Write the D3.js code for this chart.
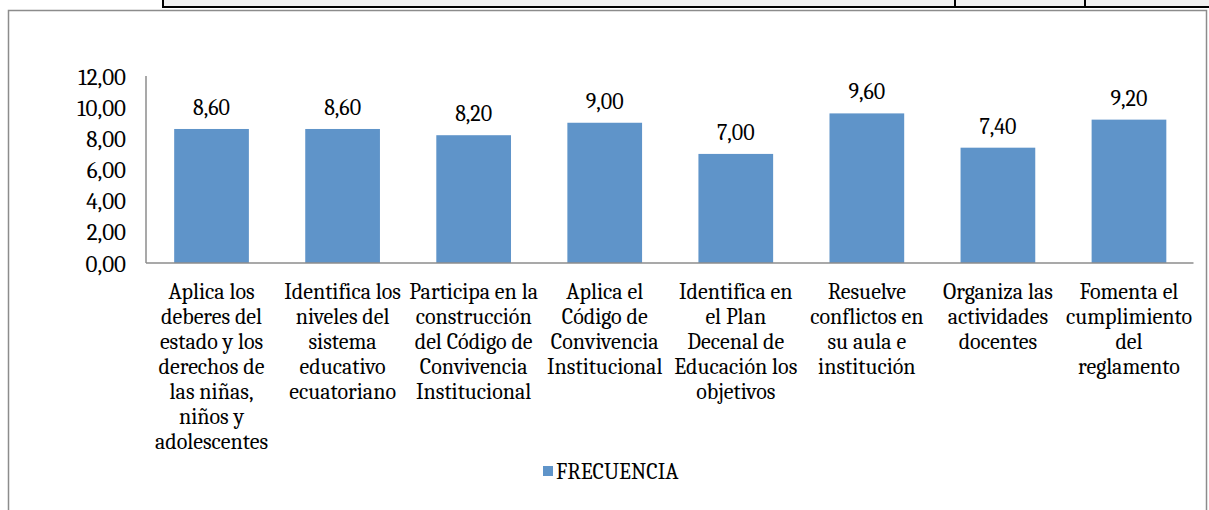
<!DOCTYPE html>
<html>
<head>
<meta charset="utf-8">
<script src="https://cdn.jsdelivr.net/npm/d3@7"></script>
<style>
  body { margin: 0; background: #fff; }
  svg text { font-family: Cambria, "DejaVu Serif", "Liberation Serif", serif; fill: #000; }
</style>
</head>
<body>
<div id="chart"></div>
<script>
// Chart data
var categories = [
  ["Aplica los", "deberes del", "estado y los", "derechos de", "las niñas,", "niños y", "adolescentes"],
  ["Identifica los", "niveles del", "sistema", "educativo", "ecuatoriano"],
  ["Participa en la", "construcción", "del Código de", "Convivencia", "Institucional"],
  ["Aplica el", "Código de", "Convivencia", "Institucional"],
  ["Identifica en", "el Plan", "Decenal de", "Educación los", "objetivos"],
  ["Resuelve", "conflictos en", "su aula e", "institución"],
  ["Organiza las", "actividades", "docentes"],
  ["Fomenta el", "cumplimiento", "del", "reglamento"]
];
var frecuencia = [8.6, 8.6, 8.2, 9.0, 7.0, 9.6, 7.4, 9.2];
var yTicks = [0, 2, 4, 6, 8, 10, 12];
var seriesName = "FRECUENCIA";

var svgWidth = 1209;
var svgHeight = 510;
var barColor = "#5f94c9";
var fontSize = "22px";

var svg = d3.select("#chart")
  .append("svg")
  .attr("width", svgWidth)
  .attr("height", svgHeight);

// Table fragment above the chart (from the source document)
svg.append("rect")
  .attr("x", 163).attr("y", -2)
  .attr("width", 1060).attr("height", 9)
  .attr("fill", "#f0f0f0")
  .attr("stroke", "#000")
  .attr("stroke-width", 2);
[955, 1085].forEach(function(x) {
  svg.append("line")
    .attr("x1", x).attr("x2", x)
    .attr("y1", 0).attr("y2", 7)
    .attr("stroke", "#000").attr("stroke-width", 2);
});

// Chart frame
svg.append("rect")
  .attr("x", 8.5).attr("y", 10.5)
  .attr("width", 1198).attr("height", 520)
  .attr("fill", "#fff")
  .attr("stroke", "#8c8c8c")
  .attr("stroke-width", 1.5);

var chartMargin = { top: 76, left: 146, right: 1194.5, bottom: 263 };

var xScale = d3.scaleBand()
  .domain(d3.range(categories.length))
  .range([chartMargin.left, chartMargin.right])
  .paddingInner(0.43)
  .paddingOuter(0.215);

var yScale = d3.scaleLinear()
  .domain([0, 12])
  .range([chartMargin.bottom, chartMargin.top]);

// y axis labels
var leftAxis = d3.axisLeft(yScale)
  .tickValues(yTicks)
  .tickSize(0)
  .tickPadding(20)
  .tickFormat(function(d) { return d3.format(".2f")(d).replace(".", ","); });

var yAxis = svg.append("g")
  .attr("transform", "translate(" + chartMargin.left + ",0)")
  .call(leftAxis);
yAxis.select(".domain").remove();
yAxis.selectAll("text")
  .style("font-size", "23px")
  .attr("dy", "0.35em");

// Bars
svg.selectAll(".bar")
  .data(frecuencia)
  .enter()
  .append("rect")
  .attr("class", "bar")
  .attr("x", function(d, i) { return xScale(i); })
  .attr("y", function(d) { return yScale(d); })
  .attr("width", xScale.bandwidth())
  .attr("height", function(d) { return yScale(0) - yScale(d); })
  .attr("fill", barColor);

// Axis lines
svg.append("line")
  .attr("x1", chartMargin.left).attr("x2", chartMargin.left)
  .attr("y1", chartMargin.top).attr("y2", chartMargin.bottom)
  .attr("stroke", "#8c8c8c").attr("stroke-width", 1.5);
svg.append("line")
  .attr("x1", chartMargin.left).attr("x2", chartMargin.right - 1)
  .attr("y1", chartMargin.bottom).attr("y2", chartMargin.bottom)
  .attr("stroke", "#8c8c8c").attr("stroke-width", 1.5);

// Value labels
svg.selectAll(".value")
  .data(frecuencia)
  .enter()
  .append("text")
  .attr("class", "value")
  .attr("x", function(d, i) { return xScale(i) + xScale.bandwidth() / 2; })
  .attr("y", function(d) { return yScale(d) - 14; })
  .attr("text-anchor", "middle")
  .style("font-size", fontSize)
  .text(function(d) { return d3.format(".2f")(d).replace(".", ","); });

// Category labels
var catGroup = svg.selectAll(".cat")
  .data(categories)
  .enter()
  .append("text")
  .attr("class", "cat")
  .attr("text-anchor", "middle")
  .style("font-size", fontSize);

catGroup.each(function(lines, i) {
  var cx = xScale(i) + xScale.bandwidth() / 2;
  d3.select(this).selectAll("tspan")
    .data(lines)
    .enter()
    .append("tspan")
    .attr("x", cx)
    .attr("y", function(d, j) { return 299 + j * 25; })
    .text(function(d) { return d; });
});

// Legend
var legend = svg.append("g")
  .attr("transform", "translate(543, 466)");
legend.append("rect")
  .attr("width", 10).attr("height", 10)
  .attr("fill", barColor);
legend.append("text")
  .attr("x", 13).attr("y", 5)
  .attr("dy", "0.35em")
  .style("font-size", fontSize)
  .text(seriesName);
</script>
</body>
</html>
